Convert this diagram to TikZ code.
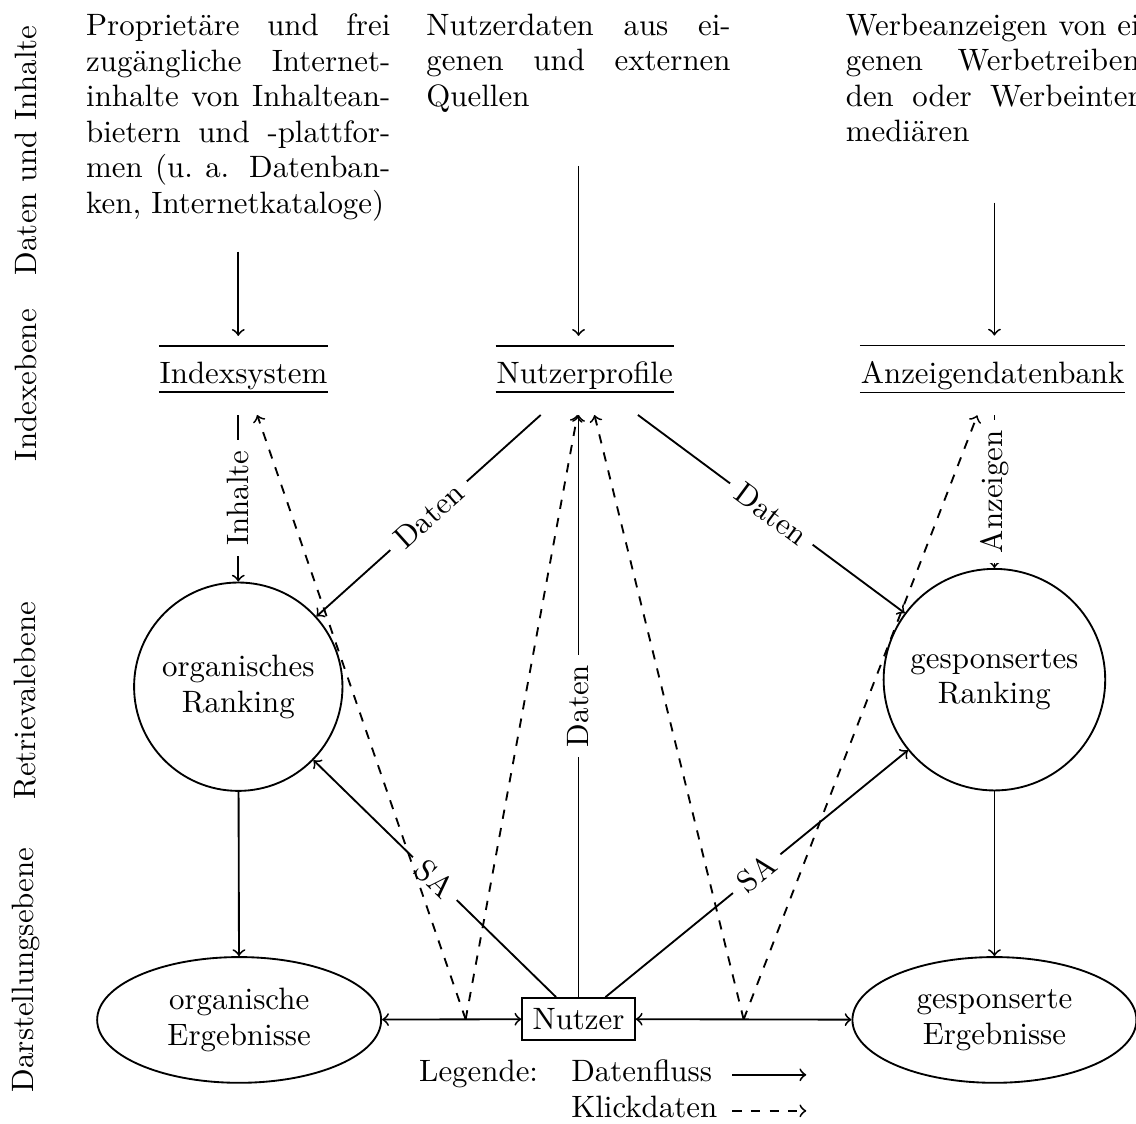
\documentclass[tikz,border=0pt]{standalone}
\usepackage{fontspec}
\usepackage{tikz}
\usetikzlibrary{shapes.geometric}
\hyphenpenalty=10000
\tolerance=10000

\begin{document}
\begin{tikzpicture}[semithick, every node/.style={font=\fontsize{10}{11.5}\selectfont},
    flow/.style={->},
    klick/.style={->, dashed},
    lbl/.style={fill=white, sloped},
    quelle/.style={anchor=north, text width=3.46cm, align=justify},
    index/.style={inner xsep=0pt, inner ysep=8pt,
        append after command={
            ([yshift=-3.2pt]\tikzlastnode.north west) edge ([yshift=-3.2pt]\tikzlastnode.north east)
            ([yshift=7.4pt]\tikzlastnode.south west) edge ([yshift=7.4pt]\tikzlastnode.south east)}},
    rank/.style={draw, circle, align=center},
    ergebnis/.style={draw, ellipse, align=center, minimum width=3.23cm, minimum height=1.43cm},
    ebene/.style={rotate=90}]
    \useasboundingbox (0,0) rectangle (12.92,-12.78);

    % Ebenen
    \node[ebene] (e1) at (0.29,-1.71) {Daten und Inhalte};
    \node[ebene] (e2) at (0.29,-4.38) {Indexebene};
    \node[ebene] (e3) at (0.29,-7.97) {Retrievalebene};
    \node[ebene] (e4) at (0.29,-11.03) {Darstellungsebene};

    % Daten und Inhalte
    \node[quelle] (srcL) at (2.71,-0.03) {Proprietäre und frei\linebreak
        zugängliche Internet-\linebreak inhalte von Inhaltean-\linebreak
        bietern und -plattfor-\linebreak men (u.~a. Datenban-\linebreak
        ken, Internetkataloge)};
    \node[quelle] (srcM) at (6.58,-0.03) {Nutzerdaten aus ei-\linebreak
        genen und externen\linebreak Quellen};
    \node[quelle] (srcR) at (11.35,-0.03) {Werbeanzeigen von ei-\linebreak
        genen Werbetreiben-\linebreak den oder Werbeinter-\linebreak mediären};

    % Indexebene
    \node[index] (idxsys) at (2.77,-4.27) {Indexsystem};
    \node[index] (nprof) at (6.65,-4.27) {Nutzerprofile};
    \node[index] (anzdb) at (11.29,-4.27) {Anzeigendatenbank};

    % Retrievalebene
    \node[rank, minimum size=2.37cm] (orgrank) at (2.71,-7.81) {organisches\\Ranking};
    \node[rank, minimum size=2.52cm] (sporank) at (11.31,-7.73) {gesponsertes\\Ranking};

    % Darstellungsebene
    \node[ergebnis] (orgres) at (2.72,-11.60) {organische\\Ergebnisse};
    \node[ergebnis] (spores) at (11.31,-11.60) {gesponserte\\Ergebnisse};
    \node[draw] (nutzer) at (6.58,-11.59) {Nutzer};

    % Legende
    \node[anchor=base west] (leg) at (4.64,-12.30) {Legende:};
    \node[anchor=base west] (lgflow) at (6.37,-12.30) {Datenfluss};
    \node[anchor=base west] (lgklick) at (6.37,-12.71) {Klickdaten};
    \coordinate (lgx) at (8.33,0);
    \draw[flow] (lgflow.mid east -| lgx) -- ++(0.84,0);
    \draw[klick] (lgklick.mid east -| lgx) -- ++(0.84,0);

    % Datenfluss
    \draw[flow, shorten <=0.22cm] (srcL.south) -- (srcL.south |- idxsys.north);
    \draw[flow, shorten <=0.48cm] (srcM.south) -- (srcM.south |- nprof.north);
    \draw[flow, shorten <=0.56cm] (srcR.south -| sporank) -- (sporank |- anzdb.north);
    \draw[<-] (orgrank) -- node[lbl] {Inhalte} (orgrank |- idxsys.south);
    \draw[<-] (sporank) -- node[lbl] {Anzeigen} (sporank |- anzdb.south);
    \draw[flow] (nprof) -- node[lbl] {Daten} (orgrank);
    \draw[flow] (nprof) -- node[lbl] {Daten} (sporank);
    \draw[flow] (nutzer) -- node[lbl] {Daten} (nutzer |- nprof.south);
    \draw[flow] (nutzer) -- node[lbl] {SA} (orgrank);
    \draw[flow] (nutzer) -- node[lbl] {SA} (sporank);
    \draw[flow] (orgrank) -- (orgres);
    \draw[flow] (sporank) -- (spores);
    \draw[<->] (orgres) -- coordinate[pos=0.6] (clickL) (nutzer);
    \draw[<->] (spores) -- coordinate[pos=0.5] (clickR) (nutzer);

    % Klickdaten
    \draw[klick] (clickL) -- (idxsys);
    \draw[klick] (clickL) -- (nprof);
    \draw[klick] (clickR) -- (nprof);
    \draw[klick] (clickR) -- (anzdb);
\end{tikzpicture}
\end{document}
